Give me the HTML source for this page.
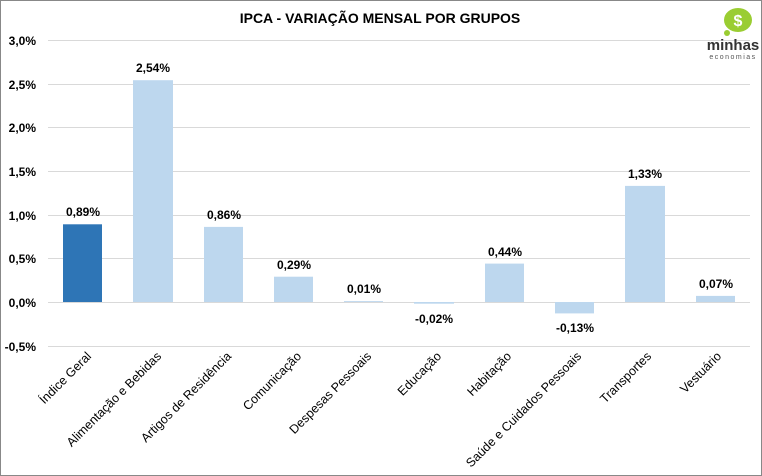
<!DOCTYPE html>
<html><head><meta charset="utf-8"><style>
html,body{margin:0;padding:0;background:#fff}
svg{display:block}
text{font-family:"Liberation Sans","DejaVu Sans",sans-serif;fill:#000}
</style></head><body>
<svg width="762" height="476" viewBox="0 0 762 476" xmlns="http://www.w3.org/2000/svg">
<rect x="0.5" y="0.5" width="761" height="475" fill="#fff" stroke="#888"/>
<text x="380" y="23" text-anchor="middle" font-size="14" font-weight="bold">IPCA - VARIAÇÃO MENSAL POR GRUPOS</text>
<g stroke="#d9d9d9" stroke-width="1">
<line x1="48" x2="750" y1="40.5" y2="40.5"/>
<line x1="48" x2="750" y1="84.5" y2="84.5"/>
<line x1="48" x2="750" y1="127.5" y2="127.5"/>
<line x1="48" x2="750" y1="171.5" y2="171.5"/>
<line x1="48" x2="750" y1="215.5" y2="215.5"/>
<line x1="48" x2="750" y1="258.5" y2="258.5"/>
<line x1="48" x2="750" y1="302.5" y2="302.5"/>
<line x1="48" x2="750" y1="346.5" y2="346.5"/>
</g>
<g font-size="12" font-weight="bold" text-anchor="end">
<text x="36" y="45">3,0%</text>
<text x="36" y="89">2,5%</text>
<text x="36" y="132">2,0%</text>
<text x="36" y="176">1,5%</text>
<text x="36" y="220">1,0%</text>
<text x="36" y="263">0,5%</text>
<text x="36" y="307">0,0%</text>
<text x="36" y="351">-0,5%</text>
</g>
<g fill="#bdd7ee">
<rect x="63" y="224.3" width="39" height="77.7" fill="#2e75b6"/>
<rect x="133" y="80.2" width="40" height="221.8"/>
<rect x="204" y="226.9" width="39" height="75.1"/>
<rect x="274" y="276.7" width="39" height="25.3"/>
<rect x="344" y="301.1" width="39" height="0.9"/>
<rect x="414" y="302" width="40" height="1.7"/>
<rect x="485" y="263.6" width="39" height="38.4"/>
<rect x="555" y="302" width="39" height="11.4"/>
<rect x="625" y="185.9" width="40" height="116.1"/>
<rect x="696" y="295.9" width="39" height="6.1"/>
</g>
<g font-size="12" font-weight="bold" text-anchor="middle">
<text x="83" y="216">0,89%</text>
<text x="153" y="72">2,54%</text>
<text x="224" y="219">0,86%</text>
<text x="294" y="269">0,29%</text>
<text x="364" y="293">0,01%</text>
<text x="434" y="323">-0,02%</text>
<text x="505" y="256">0,44%</text>
<text x="575" y="332">-0,13%</text>
<text x="645" y="178">1,33%</text>
<text x="716" y="288">0,07%</text>
</g>
<g font-size="12.5" text-anchor="end">
<text transform="translate(92,357) rotate(-45)">Índice Geral</text>
<text transform="translate(162,357) rotate(-45)">Alimentação e Bebidas</text>
<text transform="translate(232,357) rotate(-45)">Artigos de Residência</text>
<text transform="translate(302,357) rotate(-45)">Comunicação</text>
<text transform="translate(372,357) rotate(-45)">Despesas Pessoais</text>
<text transform="translate(442,357) rotate(-45)">Educação</text>
<text transform="translate(512,357) rotate(-45)">Habitação</text>
<text transform="translate(582,357) rotate(-45)">Saúde e Cuidados Pessoais</text>
<text transform="translate(652,357) rotate(-45)">Transportes</text>
<text transform="translate(722,357) rotate(-45)">Vestuário</text>
</g>
<g>
<ellipse cx="738" cy="20" rx="14" ry="12" fill="#9acd32"/>
<circle cx="727" cy="33" r="3" fill="#9acd32"/>
<text x="738" y="26" text-anchor="middle" font-size="16" font-weight="bold" style="fill:#fff">$</text>
<text x="733" y="50" text-anchor="middle" font-size="15" font-weight="bold" style="fill:#333">minhas</text>
<text x="733" y="59" text-anchor="middle" font-size="7" letter-spacing="1.5" style="fill:#555">economias</text>
</g>
</svg>
</body></html>
